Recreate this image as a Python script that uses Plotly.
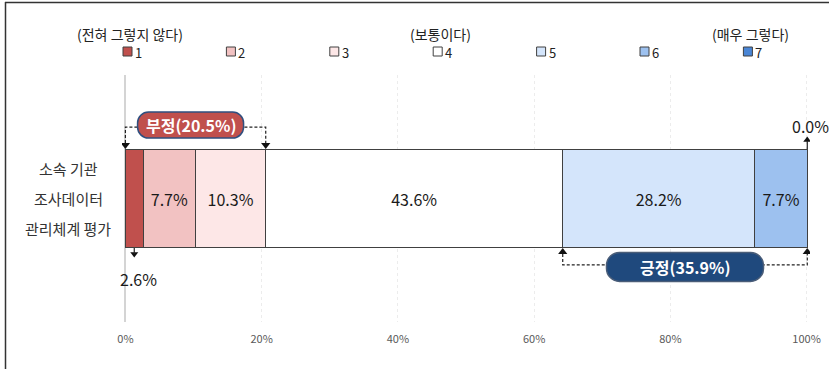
import plotly.graph_objects as go

# ---- data -------------------------------------------------------------
levels = ["1", "2", "3", "4", "5", "6", "7"]
shares = [2.6, 7.7, 10.3, 43.6, 28.2, 7.7, 0.0]
level_colors = ["#c0504d", "#f2c2c2", "#fde7e7", "#ffffff", "#d4e5fb", "#9dc1ef", "#4a86d6"]
anchor_labels = {0: "(전혀 그렇지 않다)", 3: "(보통이다)", 6: "(매우 그렇다)"}
row_label_lines = ["소속 기관", "조사데이터", "관리체계 평가"]
x_ticks = [0, 20, 40, 60, 80, 100]
x_tick_text = [f"{v}%" for v in x_ticks]
negative_total = 20.5
positive_total = 35.9

# ---- geometry helpers ---------------------------------------------------
W, H = 829, 369
ML, MR, MT, MB = 122, 19, 75, 47
PW, PH = W - ML - MR, H - MT - MB
XR = [-0.5, 100.5]
YR = [-0.5, 0.5]
BAR_W = 0.4
FONT = "Noto Sans CJK KR, Noto Sans, sans-serif"


def x_of(px):
    return XR[0] + (px - ML) / PW * (XR[1] - XR[0])


def y_of(py):
    return YR[1] - (py - MT) / PH * (YR[1] - YR[0])


def dy(pix):
    return pix / PH * (YR[1] - YR[0])


def dx(pix):
    return pix / PW * (XR[1] - XR[0])


def xp(px):
    return (px - ML) / PW


def yp(py):
    return 1 - (py - MT) / PH


def px_of_x(x):
    return ML + (x - XR[0]) / (XR[1] - XR[0]) * PW


def py_of_y(y):
    return MT + (YR[1] - y) / (YR[1] - YR[0]) * PH


def pill_path(cx, cy, w, h, r):
    """Rounded rectangle centred on (cx, cy) data, sized in pixels."""
    cpx, cpy = px_of_x(cx), py_of_y(cy)
    L, R, T, B = cpx - w / 2, cpx + w / 2, cpy - h / 2, cpy + h / 2
    k = 0.5523 * r

    def p(x, y):
        return f"{x_of(x):.5f},{y_of(y):.5f}"

    return " ".join([
        f"M {p(L + r, T)}",
        f"L {p(R - r, T)}",
        f"C {p(R - r + k, T)} {p(R, T + r - k)} {p(R, T + r)}",
        f"L {p(R, B - r)}",
        f"C {p(R, B - r + k)} {p(R - r + k, B)} {p(R - r, B)}",
        f"L {p(L + r, B)}",
        f"C {p(L + r - k, B)} {p(L, B - r + k)} {p(L, B - r)}",
        f"L {p(L, T + r)}",
        f"C {p(L, T + r - k)} {p(L + r - k, T)} {p(L + r, T)}",
        "Z",
    ])


# ---- figure -------------------------------------------------------------
fig = go.Figure()

for lvl, v, c in zip(levels, shares, level_colors):
    fig.add_trace(go.Bar(
        x=[v], y=[0], orientation="h", width=BAR_W, name=lvl,
        marker=dict(color=c, line=dict(color="#404040", width=1)),
        text=[f"{v:.1f}%" if v >= 5 else ""],
        textposition="inside", insidetextanchor="middle", textangle=0,
        textfont=dict(size=16, color="#1a1a1a", family=FONT),
        showlegend=False, hoverinfo="skip",
    ))

cum = []
run = 0.0
for v in shares:
    run += v
    cum.append(run)

y_top, y_bot = BAR_W / 2, -BAR_W / 2
neg_end = cum[2]
pos_start, pos_end = cum[3], cum[-1]

shapes = []
annotations = []
DASH = dict(color="#222222", width=1.2, dash="3px,2px")
SOLID = dict(color="#222222", width=1.2)
ARROW_SIZE = 8
r_tri = ARROW_SIZE / 2

# negative bracket above the bar
gap_top = 22
shapes.append(dict(
    type="path", xref="x", yref="y", line=DASH,
    path=(f"M 0,{y_top + dy(r_tri * 1.5)} V {y_top + dy(gap_top)} "
          f"H {neg_end} V {y_top + dy(r_tri * 1.5)}"),
))
# positive bracket below the bar
gap_bot = 17
shapes.append(dict(
    type="path", xref="x", yref="y", line=DASH,
    path=(f"M {pos_start},{y_bot - dy(r_tri * 1.5)} V {y_bot - dy(gap_bot)} "
          f"H {pos_end} V {y_bot - dy(r_tri * 1.5)}"),
))

fig.add_trace(go.Scatter(
    x=[0, neg_end], y=[y_top + dy(r_tri)] * 2, mode="markers",
    marker=dict(symbol="triangle-down", size=ARROW_SIZE, color="#111111"),
    showlegend=False, hoverinfo="skip",
))
fig.add_trace(go.Scatter(
    x=[pos_start, pos_end], y=[y_bot - dy(r_tri)] * 2, mode="markers",
    marker=dict(symbol="triangle-up", size=ARROW_SIZE, color="#111111"),
    showlegend=False, hoverinfo="skip",
))

# pills with the summary shares
neg_cx, neg_cy = neg_end / 2 - dx(5), y_top + dy(gap_top + 2)
pos_cx, pos_cy = (pos_start + pos_end) / 2, y_bot - dy(gap_bot + 2)
shapes.append(dict(type="path", xref="x", yref="y",
                   path=pill_path(neg_cx, neg_cy, 106, 26, 11),
                   fillcolor="#c0504d", line=dict(color="#2f4f7f", width=1.5)))
shapes.append(dict(type="path", xref="x", yref="y",
                   path=pill_path(pos_cx, pos_cy, 157, 29, 13),
                   fillcolor="#1f497d", line=dict(color="#4a5d78", width=1.5)))
annotations.append(dict(x=neg_cx, y=neg_cy, xref="x", yref="y", showarrow=False,
                        xanchor="center", yanchor="middle",
                        text=f"<b>부정({negative_total:.1f}%)</b>",
                        font=dict(size=16, color="white", family=FONT)))
annotations.append(dict(x=pos_cx, y=pos_cy, xref="x", yref="y", showarrow=False,
                        xanchor="center", yanchor="middle",
                        text=f"<b>긍정({positive_total:.1f}%)</b>",
                        font=dict(size=16, color="white", family=FONT)))

# small-segment callouts: first level below, last level above
first_mid = shares[0] / 2
shapes.append(dict(type="line", xref="x", yref="y", line=SOLID,
                   x0=first_mid, x1=first_mid, y0=y_bot, y1=y_bot - dy(6)))
fig.add_trace(go.Scatter(
    x=[first_mid], y=[y_bot - dy(10 - r_tri)], mode="markers",
    marker=dict(symbol="triangle-down", size=7, color="#111111"),
    showlegend=False, hoverinfo="skip",
))
annotations.append(dict(x=first_mid, y=y_bot - dy(31), xref="x", yref="y",
                        xanchor="center", yanchor="middle",
                        xshift=4, showarrow=False, text=f"{shares[0]:.1f}%",
                        font=dict(size=16, color="#1a1a1a", family=FONT)))

last_x = cum[-1]
shapes.append(dict(type="line", xref="x", yref="y", line=SOLID,
                   x0=last_x, x1=last_x, y0=y_top, y1=y_top + dy(8)))
fig.add_trace(go.Scatter(
    x=[last_x], y=[y_top + dy(13 - r_tri)], mode="markers",
    marker=dict(symbol="triangle-up", size=7, color="#111111"),
    showlegend=False, hoverinfo="skip",
))
annotations.append(dict(x=last_x, y=y_top + dy(23), xref="x", yref="y",
                        xanchor="center", yanchor="middle",
                        xshift=3, showarrow=False, text=f"{shares[-1]:.1f}%",
                        font=dict(size=16, color="#1a1a1a", family=FONT)))

# row label, one line per annotation
for i, line in enumerate(row_label_lines):
    annotations.append(dict(x=xp(68), y=0, xref="paper", yref="y",
                            xanchor="center", yanchor="middle",
                            yshift=30 - 30 * i, showarrow=False, text=line,
                            font=dict(size=15, color="#333333", family=FONT)))

# legend: coloured squares with level numbers and scale anchors
LEG_X0, LEG_STEP, SQ = 123, 103.4, 9
for i, (lvl, c) in enumerate(zip(levels, level_colors)):
    left = LEG_X0 + i * LEG_STEP
    shapes.append(dict(type="rect", xref="paper", yref="paper",
                       x0=xp(left), x1=xp(left + SQ), y0=yp(47), y1=yp(47 + SQ),
                       fillcolor=c, line=dict(color="#404040", width=1)))
    annotations.append(dict(x=xp(left + SQ + 1), y=yp(52.5), xref="paper", yref="paper",
                            xanchor="left", yanchor="middle", showarrow=False, text=lvl,
                            font=dict(size=13, color="#222222", family=FONT)))
    if i in anchor_labels:
        annotations.append(dict(x=xp(left + 7), y=yp(33.5), xref="paper", yref="paper",
                                xanchor="center", yanchor="middle",
                                showarrow=False, text=anchor_labels[i],
                                font=dict(size=14, color="#222222", family=FONT)))

# outer frame lines
shapes.append(dict(type="line", xref="paper", yref="paper",
                   x0=xp(5), x1=xp(W), y0=yp(2.5), y1=yp(2.5),
                   line=dict(color="#333333", width=1.5)))
shapes.append(dict(type="line", xref="paper", yref="paper",
                   x0=xp(5.5), x1=xp(5.5), y0=yp(2), y1=yp(H),
                   line=dict(color="#333333", width=1.5)))

fig.update_layout(
    width=W, height=H, barmode="stack",
    margin=dict(l=ML, r=MR, t=MT, b=MB, autoexpand=False),
    paper_bgcolor="white", plot_bgcolor="white",
    font=dict(family=FONT),
    xaxis=dict(range=XR, tickmode="array", tickvals=x_ticks, ticktext=x_tick_text,
               showgrid=True, gridcolor="#ececec", griddash="3px,3px", gridwidth=1,
               zeroline=True, zerolinecolor="#d4d4d4", zerolinewidth=2,
               tickfont=dict(size=11, color="#595959", family=FONT),
               ticks="", ticklabelstandoff=9, automargin=False, fixedrange=True),
    yaxis=dict(range=YR, showticklabels=False, showgrid=False, zeroline=False,
               automargin=False, fixedrange=True),
    shapes=shapes, annotations=annotations,
)

fig.write_html("out.html")
